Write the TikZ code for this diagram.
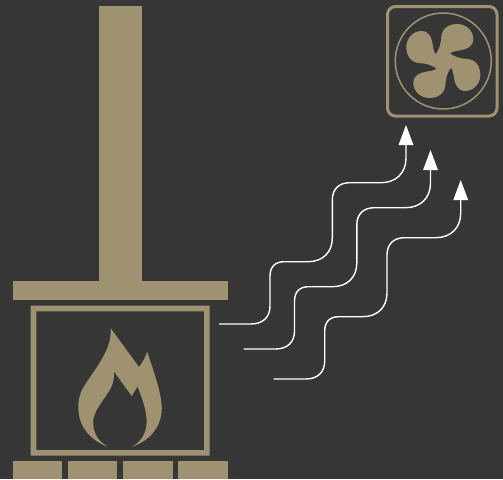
\documentclass[tikz,border=0pt]{standalone}
\usetikzlibrary{arrows.meta}
\definecolor{bgc}{HTML}{363636}
\definecolor{tan}{HTML}{9F9270}
\tikzset{
  solidtan/.style={fill=tan,draw=none},
  heatwave/.style={draw=white,line width=1.4pt,-{Triangle[width=14.5pt,length=20pt]}},
}
\begin{document}
\begin{tikzpicture}[x=1pt,y=-1pt]
\path[use as bounding box,fill=bgc] (0,0) rectangle (503,479);
% stove
\fill[solidtan] (98.6,6) rectangle (141.8,282);
\fill[solidtan] (12.7,281.3) rectangle (227.7,299.7);
\fill[solidtan,even odd rule] (30.7,305.7) rectangle (209.7,455.7) (36.3,311.4) rectangle (204,450);
\foreach \a/\b in {12.7/62,68/117.3,123.3/172.7,178.3/227.7}
  \fill[solidtan] (\a,461) rectangle (\b,479);
% flame
\fill[solidtan] (110.7,328.3)
  .. controls (111,340) and (108,348) .. (103,357)
  .. controls (97,368) and (89,378) .. (83,388)
  .. controls (79,395) and (78,402) .. (78.3,409)
  .. controls (79,428) and (92,441) .. (107.5,446.5)
  .. controls (98,441) and (93,433) .. (93.2,422)
  .. controls (93.5,413) and (98,408) .. (103,400)
  .. controls (110,390) and (114.5,385) .. (114,371.5)
  -- (131.7,396) -- (137.5,386.5)
  .. controls (142,398) and (147,411) .. (146.6,423)
  .. controls (146,434) and (141,442) .. (131.5,447)
  .. controls (149,441) and (161.5,428) .. (161.8,408)
  .. controls (161.5,392) and (152,367) .. (147.3,351.7)
  .. controls (145,358) and (142,363) .. (139,367)
  -- cycle;
% fan
\draw[tan,line width=3pt,rounded corners=8pt] (387.5,6.5) rectangle (497,116);
\draw[tan,line width=1.5pt] (443.3,61) circle[radius=48];
\begin{scope}[shift={(443.3,61)}]
\foreach \r in {0,90,180,270}
  \fill[tan,rotate=\r] (-8.3,-6)
    .. controls (-4,-11) and (-2.5,-17) .. (-2,-24)
    .. controls (-1.5,-33) and (6,-37) .. (14,-37)
    .. controls (23,-37) and (30,-30) .. (30,-22)
    .. controls (30,-14) and (23,-11.5) .. (16,-10.5)
    .. controls (10,-9.5) and (6,-9) .. (5,-5)
    -- (0,0) -- cycle;
\fill[tan] (0,0) circle[radius=8];
\end{scope}
% heat waves
\foreach \n/\dx/\dy in {a/0/0,b/24.5/25,c/54.7/55}{
  \begin{scope}[shift={(\dx,\dy)}]
  \coordinate (s\n) at (219,324);
  \coordinate (e\n) at (406,125);
  \draw[heatwave] (s\n) -- (251,324)
    .. controls (263,324) and (270,317) .. (270,306)
    -- (270,276)
    .. controls (270,267) and (275,261.7) .. (284,261.7)
    -- (308,261.7)
    .. controls (323,261.7) and (332.3,252) .. (332.3,238)
    -- (332.3,200)
    .. controls (332.3,189) and (339,182.7) .. (350,182.7)
    -- (381,182.7)
    .. controls (396,182.7) and (406,173) .. (406,158)
    -- (e\n);
  \end{scope}
}
\end{tikzpicture}
\end{document}
